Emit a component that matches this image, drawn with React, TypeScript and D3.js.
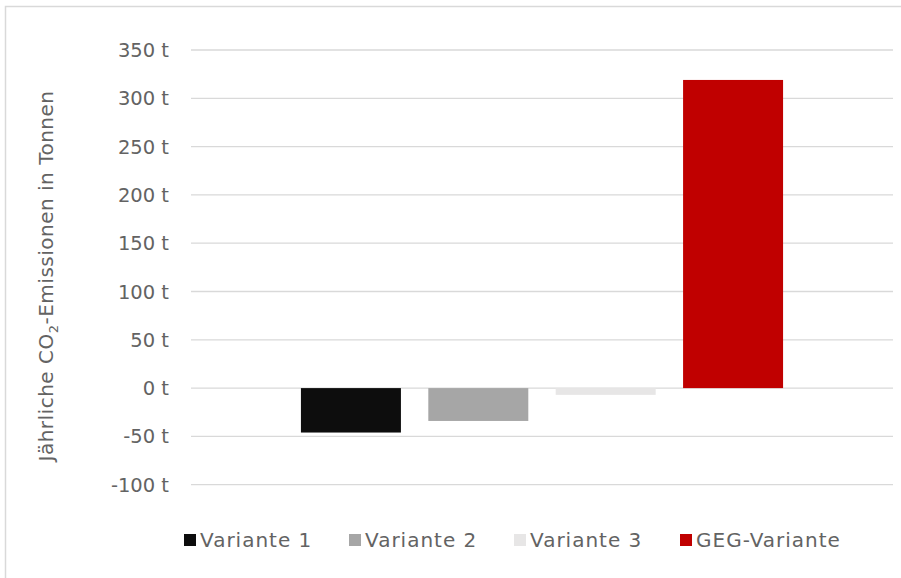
import React from "react";
import * as d3 from "d3";

const seriesNames = ["Variante 1", "Variante 2", "Variante 3", "GEG-Variante"];
const seriesValues = [-46, -34, -7, 319];
const seriesColors = ["#0d0d0d", "#a6a6a6", "#e7e6e6", "#c00000"];
const yTicks = [-100, -50, 0, 50, 100, 150, 200, 250, 300, 350];
const tickSuffix = " t";

const W = 901;
const H = 578;
const plotLeft = 191;
const plotRight = 893;
const FONT = "'DejaVu Sans', sans-serif";
const TEXT = "#636363";

export default function App() {
  const y = d3.scaleLinear().domain([-100, 350]).range([484.7, 50]);
  const x = d3
    .scaleBand<string>()
    .domain(seriesNames)
    .range([plotLeft, plotRight])
    .paddingInner(0.215)
    .paddingOuter(0.863);

  const legendX = [184, 349, 514, 680];

  return (
    <svg
      width={W}
      height={H}
      style={{ position: "absolute", left: 0, top: 0, background: "#fff" }}
      fontFamily={FONT}
    >
      <rect x={5.5} y={6.5} width={W + 10} height={H + 10} fill="#fff" stroke="#d9d9d9" strokeWidth={1.5} />
      {yTicks.map((t) => (
        <g key={t}>
          <line x1={plotLeft} x2={plotRight} y1={y(t)} y2={y(t)} stroke="#d9d9d9" strokeWidth={1.3} />
          <text x={169} y={y(t)} dy="0.36em" textAnchor="end" fontSize={19.5} fill={TEXT}>
            {`${t}${tickSuffix}`}
          </text>
        </g>
      ))}
      {seriesNames.map((s, i) => {
        const v = seriesValues[i];
        const y0 = y(Math.max(0, v));
        const y1 = y(Math.min(0, v));
        return (
          <rect key={s} x={x(s)} y={y0} width={x.bandwidth()} height={y1 - y0} fill={seriesColors[i]} />
        );
      })}
      <text
        transform={`translate(53, 276) rotate(-90)`}
        textAnchor="middle"
        fontSize={20}
        letterSpacing={0.5}
        fill={TEXT}
      >
        Jährliche CO
        <tspan fontSize={13} dy={5}>2</tspan>
        <tspan dy={-5}>-Emissionen in Tonnen</tspan>
      </text>
      {seriesNames.map((s, i) => (
        <g key={s}>
          <rect x={legendX[i]} y={534} width={12} height={12} fill={seriesColors[i]} />
          <text x={legendX[i] + 16} y={540} dy="0.36em" fontSize={20} letterSpacing={1} fill={TEXT}>
            {s}
          </text>
        </g>
      ))}
    </svg>
  );
}
